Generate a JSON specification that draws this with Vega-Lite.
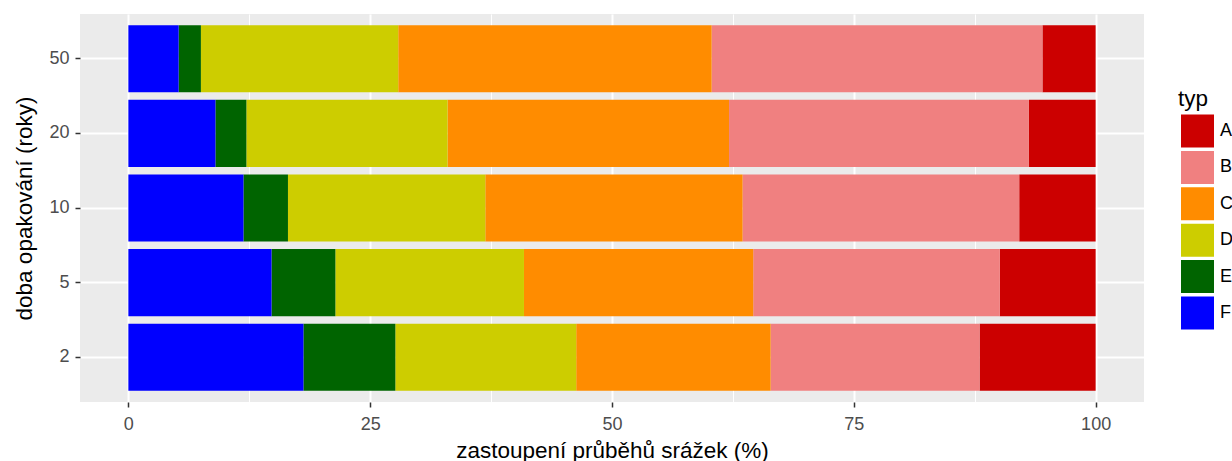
{
  "$schema": "https://vega.github.io/schema/vega-lite/v6.json",
  "width": 1064,
  "height": 388,
  "autosize": {"type": "none"},
  "padding": {"left": 80, "top": 14, "right": 88, "bottom": 59},
  "background": "white",
  "config": {
    "view": {"fill": "#EBEBEB", "stroke": null},
    "font": "Liberation Sans"
  },
  "data": {
    "values": [
      {"doba": "50", "typ": "A", "podil": 5.5},
      {"doba": "50", "typ": "B", "podil": 34.2},
      {"doba": "50", "typ": "C", "podil": 32.4},
      {"doba": "50", "typ": "D", "podil": 20.4},
      {"doba": "50", "typ": "E", "podil": 2.3},
      {"doba": "50", "typ": "F", "podil": 5.2},
      {"doba": "20", "typ": "A", "podil": 6.9},
      {"doba": "20", "typ": "B", "podil": 31.0},
      {"doba": "20", "typ": "C", "podil": 29.1},
      {"doba": "20", "typ": "D", "podil": 20.8},
      {"doba": "20", "typ": "E", "podil": 3.2},
      {"doba": "20", "typ": "F", "podil": 9.0},
      {"doba": "10", "typ": "A", "podil": 7.9},
      {"doba": "10", "typ": "B", "podil": 28.6},
      {"doba": "10", "typ": "C", "podil": 26.6},
      {"doba": "10", "typ": "D", "podil": 20.4},
      {"doba": "10", "typ": "E", "podil": 4.6},
      {"doba": "10", "typ": "F", "podil": 11.9},
      {"doba": "5", "typ": "A", "podil": 9.9},
      {"doba": "5", "typ": "B", "podil": 25.5},
      {"doba": "5", "typ": "C", "podil": 23.7},
      {"doba": "5", "typ": "D", "podil": 19.5},
      {"doba": "5", "typ": "E", "podil": 6.6},
      {"doba": "5", "typ": "F", "podil": 14.8},
      {"doba": "2", "typ": "A", "podil": 12.0},
      {"doba": "2", "typ": "B", "podil": 21.6},
      {"doba": "2", "typ": "C", "podil": 20.1},
      {"doba": "2", "typ": "D", "podil": 18.7},
      {"doba": "2", "typ": "E", "podil": 9.5},
      {"doba": "2", "typ": "F", "podil": 18.1}
    ]
  },
  "mark": {"type": "bar"},
  "encoding": {
    "y": {
      "field": "doba",
      "type": "ordinal",
      "sort": ["50", "20", "10", "5", "2"],
      "scale": {"paddingInner": 0.1, "paddingOuter": 0.15},
      "axis": {
        "title": "doba opakování (roky)",
        "titleFontSize": 22.5,
        "titleFontWeight": "normal",
        "titleColor": "black",
        "titlePadding": 12,
        "labelFontSize": 18,
        "labelColor": "#4D4D4D",
        "labelPadding": 6,
        "tickSize": 5,
        "tickColor": "#333333",
        "tickWidth": 1.5,
        "domain": false,
        "grid": true,
        "gridColor": "white",
        "gridWidth": 2,
        "bandPosition": 0.5
      }
    },
    "x": {
      "field": "podil",
      "type": "quantitative",
      "stack": "zero",
      "scale": {"domain": [-5, 105], "nice": false, "zero": false},
      "axis": {
        "title": "zastoupení průběhů srážek (%)",
        "titleFontSize": 22.5,
        "titleFontWeight": "normal",
        "titleColor": "black",
        "titlePadding": 6,
        "values": [0, 12.5, 25, 37.5, 50, 62.5, 75, 87.5, 100],
        "labelExpr": "datum.value % 25 === 0 ? '' + datum.value : ''",
        "labelFontSize": 18,
        "labelColor": "#4D4D4D",
        "labelPadding": 8,
        "labelFlush": false,
        "labelOverlap": false,
        "tickSize": 5,
        "tickColor": "#333333",
        "tickWidth": 1.5,
        "tickOpacity": {"condition": {"test": "datum.value % 25 !== 0", "value": 0}, "value": 1},
        "domain": false,
        "grid": true,
        "gridColor": "white",
        "gridWidth": {"condition": {"test": "datum.value % 25 === 0", "value": 2}, "value": 1}
      }
    },
    "color": {
      "field": "typ",
      "type": "nominal",
      "scale": {
        "domain": ["A", "B", "C", "D", "E", "F"],
        "range": ["#CC0000", "#F08080", "#FF8C00", "#CDCD00", "#006400", "#0000FF"]
      },
      "legend": {
        "orient": "none",
        "legendX": 1098,
        "legendY": 74,
        "padding": 0,
        "title": "typ",
        "titleFontSize": 22.5,
        "titleFontWeight": "normal",
        "titleColor": "black",
        "titlePadding": 4,
        "symbolType": "square",
        "symbolSize": 1089,
        "symbolStrokeWidth": 0,
        "symbolOpacity": 1,
        "symbolOffset": 3,
        "labelFontSize": 18,
        "labelColor": "black",
        "labelOffset": 6,
        "rowPadding": 3.4
      }
    },
    "order": {"field": "typ", "sort": "descending"}
  }
}
